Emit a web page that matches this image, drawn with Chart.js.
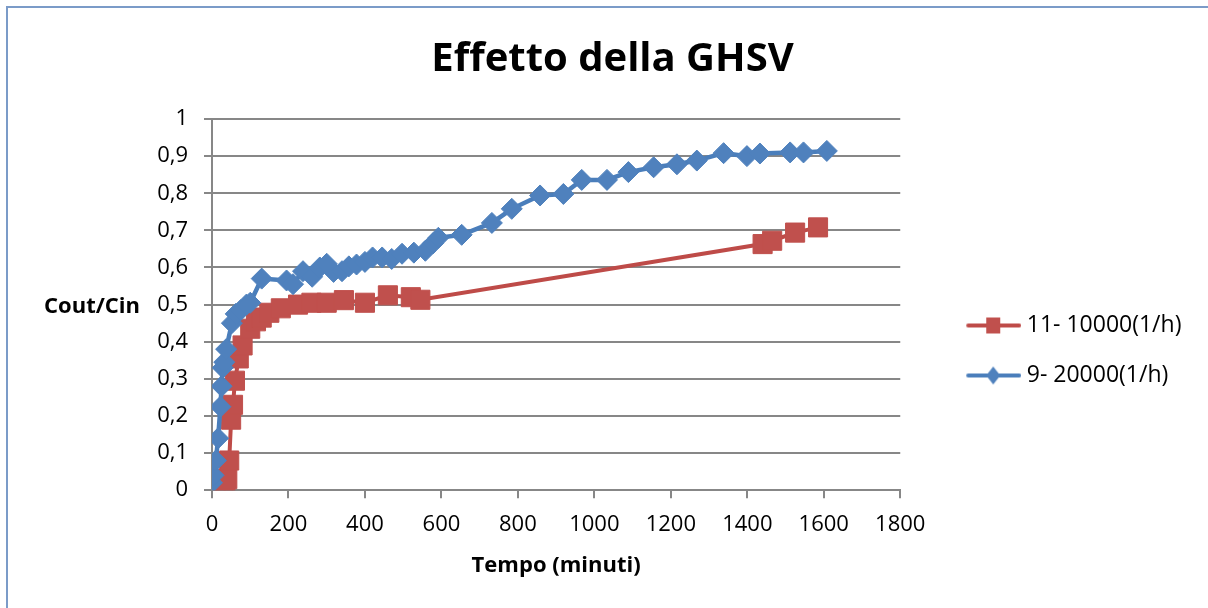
<!DOCTYPE html>
<html>
<head>
<meta charset="utf-8">
<script src="https://cdn.jsdelivr.net/npm/chart.js@4.4.0/dist/chart.umd.min.js"></script>
<style>
  html, body { margin: 0; padding: 0; background: #fff; overflow: hidden; }
  #frame { position: absolute; left: 6px; top: 6px; width: 1300px; height: 700px;
           border-left: 2px solid #7b9bc8; border-top: 2px solid #7b9bc8; }
  #wrap { position: absolute; left: 0; top: 0; width: 1208px; height: 608px; }
</style>
</head>
<body>
<div id="frame"></div>
<div id="wrap"><canvas id="grafico"></canvas></div>
<script>
// dati
tempo1 = [30, 35, 40, 45, 50, 55, 60, 70, 80, 100, 115, 130, 150, 180, 225, 260, 300, 345, 400, 460, 520, 545, 1440, 1465, 1525, 1585]
valori1 = [0, 0.01, 0.03, 0.08, 0.19, 0.23, 0.295, 0.355, 0.39, 0.435, 0.455, 0.465, 0.478, 0.49, 0.5, 0.505, 0.505, 0.512, 0.505, 0.525, 0.52, 0.513, 0.663, 0.672, 0.694, 0.708]

tempo2 = [0, 4, 10, 16, 22, 25, 28, 32, 37, 52, 62, 75, 90, 100, 130, 195, 212, 238, 262, 282, 300, 318, 340, 358, 378, 400, 420, 445, 470, 497, 528, 558, 578, 592, 653, 732, 784, 858, 919, 967, 1033, 1089, 1155, 1216, 1268, 1338, 1399, 1433, 1512, 1547, 1608]
valori2 = [0.02, 0.04, 0.08, 0.14, 0.225, 0.28, 0.33, 0.345, 0.38, 0.45, 0.475, 0.485, 0.5, 0.505, 0.57, 0.565, 0.555, 0.59, 0.575, 0.6, 0.61, 0.588, 0.59, 0.603, 0.608, 0.615, 0.627, 0.627, 0.623, 0.637, 0.64, 0.645, 0.665, 0.68, 0.688, 0.72, 0.758, 0.794, 0.798, 0.836, 0.836, 0.857, 0.87, 0.878, 0.888, 0.908, 0.9, 0.907, 0.91, 0.91, 0.914]

serie = ["11- 10000(1/h)", "9- 20000(1/h)"]
titolo = "Effetto della GHSV"
titoloX = "Tempo (minuti)"
titoloY = "Cout/Cin"
ticksX = [0, 200, 400, 600, 800, 1000, 1200, 1400, 1600, 1800]
ticksY = [0, 0.1, 0.2, 0.3, 0.4, 0.5, 0.6, 0.7, 0.8, 0.9, 1]

rosso = "#c0504d"
rossoLinea = "#be4b48"
blu = "#4f81bd"
bluLinea = "#4a7ebb"
font = "'Open Sans'"

function punti(tt, vv) {
	return tt.map(function (t, i) { return {x: t, y: vv[i]}; });
}

// icona legenda: linea con marcatore al centro
function icona(colore, linea, forma) {
	var c = document.createElement('canvas');
	c.width = 100; c.height = 24;
	var g = c.getContext('2d');
	g.strokeStyle = linea; g.lineWidth = 4; g.lineCap = 'round';
	g.beginPath(); g.moveTo(47, 12); g.lineTo(98, 12); g.stroke();
	g.fillStyle = colore;
	if (forma == 'rect') {
		g.fillRect(65, 4, 14, 16);
	} else {
		g.beginPath(); g.moveTo(72, 3); g.lineTo(79, 12); g.lineTo(72, 21); g.lineTo(65, 12); g.closePath(); g.fill();
	}
	return c;
}

var titoloAsseY = {
	id: 'titoloAsseY',
	afterDraw: function (chart) {
		var ctx = chart.ctx;
		ctx.save();
		ctx.font = 'bold 22px ' + font;
		ctx.fillStyle = '#000';
		ctx.textAlign = 'center';
		ctx.textBaseline = 'middle';
		ctx.fillText(titoloY, 92, chart.scales.y.getPixelForValue(0.5) + 2);
		ctx.restore();
	}
};

new Chart(document.getElementById('grafico').getContext('2d'), {
	type: 'line',
	data: {
		datasets: [
			{label: serie[0], data: punti(tempo1, valori1), borderColor: rossoLinea, backgroundColor: rosso,
			 borderWidth: 4, pointStyle: 'rect', pointRadius: 13.5, pointHoverRadius: 13.5,
			 pointBackgroundColor: rosso, pointBorderColor: rosso, pointBorderWidth: 1, order: 1},
			{label: serie[1], data: punti(tempo2, valori2), borderColor: bluLinea, backgroundColor: blu,
			 borderWidth: 4.5, pointStyle: 'rectRot', pointRadius: 10.5, pointHoverRadius: 10.5,
			 pointBackgroundColor: blu, pointBorderColor: blu, pointBorderWidth: 1, order: 0}
		]
	},
	options: {
		responsive: true,
		maintainAspectRatio: false,
		animation: false,
		layout: {padding: {left: 37, right: 20, top: 0, bottom: 29}},
		plugins: {
			title: {
				display: true,
				text: titolo,
				color: '#000',
				font: {family: font, size: 40, weight: 'bold'},
				padding: {top: 36, bottom: 35}
			},
			legend: {
				position: 'right',
				title: {display: true, text: ' ', font: {size: 10}, padding: {top: 110, bottom: 0}},
				labels: {
					color: '#000',
					font: {family: font, size: 23},
					usePointStyle: true,
					pointStyleWidth: 88,
					padding: 27,
					generateLabels: function (chart) {
						return [
							{text: serie[0], pointStyle: icona(rosso, rossoLinea, 'rect'), datasetIndex: 0, lineWidth: 0, fontColor: '#000'},
							{text: serie[1], pointStyle: icona(blu, bluLinea, 'diamond'), datasetIndex: 1, lineWidth: 0, fontColor: '#000'}
						];
					}
				}
			},
			tooltip: {enabled: false}
		},
		scales: {
			x: {
				type: 'linear',
				min: 0, max: 1800,
				afterBuildTicks: function (s) { s.ticks = ticksX.map(function (v) { return {value: v}; }); },
				ticks: {color: '#000', font: {family: font, size: 22}, padding: 13, maxRotation: 0,
					callback: function (v) { return String(v); }},
				grid: {drawOnChartArea: false, drawTicks: true, tickLength: 8, color: '#878787', lineWidth: 2},
				border: {color: '#878787', width: 2},
				title: {display: true, text: titoloX, color: '#000', font: {family: font, size: 22, weight: 'bold'}, padding: {top: 2, bottom: 0}}
			},
			y: {
				min: 0, max: 1,
				afterBuildTicks: function (s) { s.ticks = ticksY.map(function (v) { return {value: v}; }); },
				afterFit: function (s) { s.width = 175; },
				ticks: {color: '#000', font: {family: font, size: 22}, padding: 16,
					callback: function (v) { return String(Math.round(v * 10) / 10).replace('.', ','); }},
				grid: {color: '#878787', lineWidth: 2, tickLength: 8},
				border: {color: '#878787', width: 2}
			}
		}
	},
	plugins: [titoloAsseY]
});
</script>
</body>
</html>
